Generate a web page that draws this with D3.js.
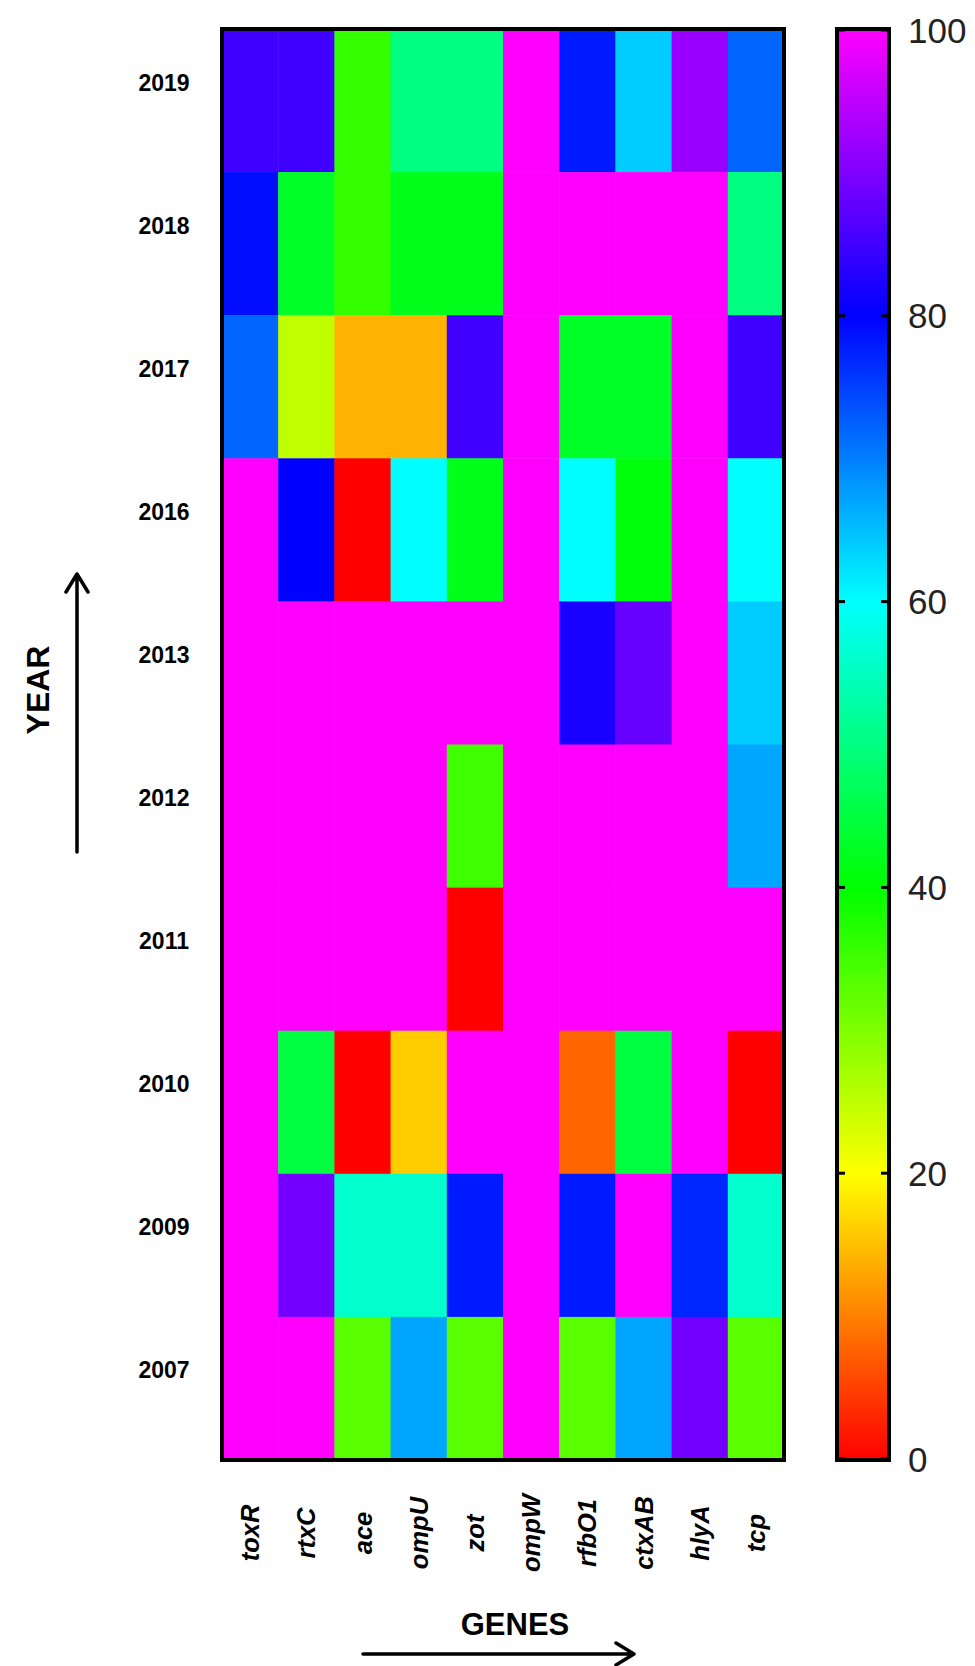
<!DOCTYPE html>
<html>
<head>
<meta charset="utf-8">
<script src="https://cdn.jsdelivr.net/npm/d3@7"></script>
<style>
  body { margin: 0; background: #fff; }
  svg { display: block; }
</style>
</head>
<body>
<div id="chart"></div>
<script>
// years top to bottom, genes left to right
const years = ['2019', '2018', '2017', '2016', '2013', '2012', '2011', '2010', '2009', '2007'];
const genes = ['toxR', 'rtxC', 'ace', 'ompU', 'zot', 'ompW', 'rfbO1', 'ctxAB', 'hlyA', 'tcp'];

// prevalence (%) per year, same order as genes
const v2019 = [85, 85, 36, 50, 50, 100, 78, 64, 92, 72];
const v2018 = [79, 43, 36, 42, 42, 100, 100, 100, 100, 50];
const v2017 = [72, 25, 14, 14, 85, 100, 43, 43, 100, 85];
const v2016 = [100, 80, 0, 60, 42, 100, 60, 41, 100, 60];
const v2013 = [100, 100, 100, 100, 100, 100, 82, 88, 100, 64];
const v2012 = [100, 100, 100, 100, 35, 100, 100, 100, 100, 67];
const v2011 = [100, 100, 100, 100, 0, 100, 100, 100, 100, 100];
const v2010 = [100, 45, 0, 16, 100, 100, 8, 45, 100, 0];
const v2009 = [100, 89, 56, 56, 78, 100, 78, 100, 77, 56];
const v2007 = [100, 100, 33, 67, 33, 100, 33, 67, 89, 33];
const rows = [v2019, v2018, v2017, v2016, v2013, v2012, v2011, v2010, v2009, v2007];

const legendTicks = [0, 20, 40, 60, 80, 100];

// flatten into cells
const cells = [];
rows.forEach((r, i) => r.forEach((v, j) => cells.push({ year: years[i], gene: genes[j], value: v })));

const W = 975, H = 1666;
const heat = { left: 222, right: 784, top: 29, bottom: 1460 };
const bar = { left: 837, right: 889 };

// hue rainbow: red(0) -> yellow -> green -> cyan -> blue -> magenta(100)
const color = d3.scaleSequential(t => d3.hsl(t * 300, 1, 0.5).toString()).domain([0, 100]);

const svg = d3.select('#chart').append('svg')
  .attr('width', W)
  .attr('height', H)
  .style('font-family', '"Liberation Sans", Arial, sans-serif');

const x = d3.scaleBand().domain(genes).range([heat.left, heat.right]);
const y = d3.scaleBand().domain(years).range([heat.top, heat.bottom]);

// heatmap cells
svg.append('g')
  .selectAll('rect')
  .data(cells)
  .enter()
  .append('rect')
  .attr('x', d => x(d.gene))
  .attr('y', d => y(d.year))
  .attr('width', x.bandwidth() + 0.5)
  .attr('height', y.bandwidth() + 0.5)
  .attr('fill', d => color(d.value));

// frame
svg.append('rect')
  .attr('x', heat.left).attr('y', heat.top)
  .attr('width', heat.right - heat.left).attr('height', heat.bottom - heat.top)
  .attr('fill', 'none').attr('stroke', '#000').attr('stroke-width', 4);

// year labels
svg.append('g')
  .selectAll('text')
  .data(years)
  .enter()
  .append('text')
  .attr('x', 164)
  .attr('y', d => y(d) + y.bandwidth() / 2 - 18)
  .attr('text-anchor', 'middle')
  .attr('dominant-baseline', 'central')
  .attr('font-size', 23)
  .attr('font-weight', 'bold')
  .text(d => d);

// gene labels (rotated)
svg.append('g')
  .selectAll('text')
  .data(genes)
  .enter()
  .append('text')
  .attr('transform', d => `translate(${x(d) + x.bandwidth() / 2},1533) rotate(-90)`)
  .attr('text-anchor', 'middle')
  .attr('dominant-baseline', 'central')
  .attr('font-size', 25.5)
  .attr('font-weight', 'bold')
  .attr('font-style', 'italic')
  .text(d => d);

// colour bar
const cy = d3.scaleLinear().domain([0, 100]).range([heat.bottom - 1, heat.top + 1]);
const grad = svg.append('defs').append('linearGradient')
  .attr('id', 'cbar').attr('x1', 0).attr('y1', 1).attr('x2', 0).attr('y2', 0);
grad.selectAll('stop')
  .data(d3.range(0, 101, 5))
  .enter()
  .append('stop')
  .attr('offset', d => d / 100)
  .attr('stop-color', d => color(d));

svg.append('rect')
  .attr('x', bar.left).attr('y', heat.top)
  .attr('width', bar.right - bar.left).attr('height', heat.bottom - heat.top)
  .attr('fill', 'url(#cbar)').attr('stroke', '#000').attr('stroke-width', 4);

// inward ticks on both sides
const tk = svg.append('g').attr('stroke', '#000').attr('stroke-width', 3);
tk.selectAll('.tl').data(legendTicks).enter().append('line')
  .attr('x1', bar.left).attr('x2', bar.left + 8)
  .attr('y1', d => cy(d)).attr('y2', d => cy(d));
tk.selectAll('.tr').data(legendTicks).enter().append('line')
  .attr('x1', bar.right - 8).attr('x2', bar.right)
  .attr('y1', d => cy(d)).attr('y2', d => cy(d));

svg.append('g')
  .selectAll('text')
  .data(legendTicks)
  .enter()
  .append('text')
  .attr('x', 908)
  .attr('y', d => cy(d))
  .attr('dominant-baseline', 'central')
  .attr('font-size', 35)
  .attr('fill', '#222')
  .text(d => d);

// axis titles with arrows
svg.append('text')
  .attr('transform', 'translate(38,690) rotate(-90)')
  .attr('text-anchor', 'middle')
  .attr('dominant-baseline', 'central')
  .attr('font-size', 32)
  .attr('font-weight', 'bold')
  .text('YEAR');

svg.append('text')
  .attr('x', 515).attr('y', 1635)
  .attr('text-anchor', 'middle')
  .attr('font-size', 31)
  .attr('font-weight', 'bold')
  .text('GENES');

const arrows = svg.append('g')
  .attr('fill', 'none').attr('stroke', '#000')
  .attr('stroke-width', 3.5).attr('stroke-linecap', 'round').attr('stroke-linejoin', 'round');
arrows.append('path').attr('d', 'M77,852 V574 M66,592 L77,574 L88,592');
arrows.append('path').attr('d', 'M363,1654 H634 M616,1643 L634,1654 L616,1665');
</script>
</body>
</html>
